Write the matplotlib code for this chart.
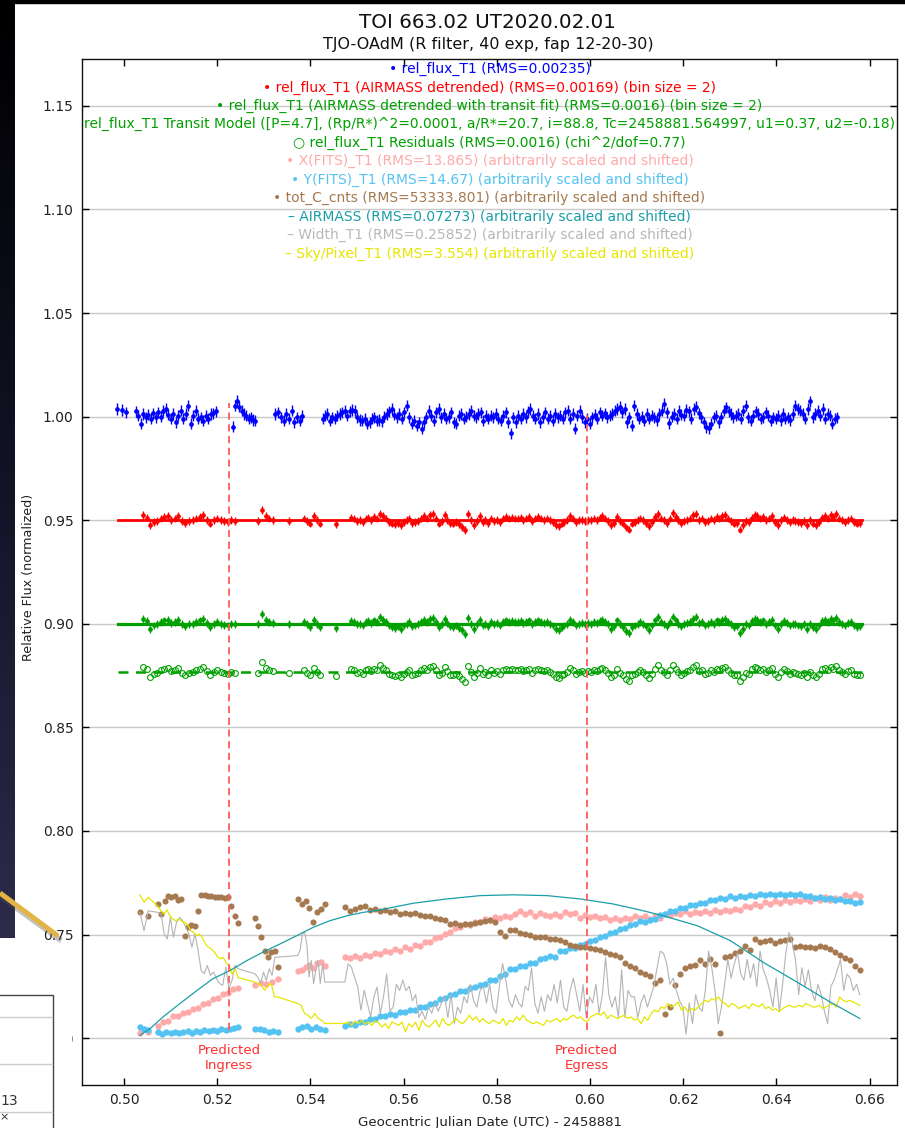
import matplotlib.pyplot as plt
import numpy as np
from matplotlib.patches import Rectangle
from matplotlib.lines import Line2D
from matplotlib.colors import LinearSegmentedColormap

W, H = 905, 1128

# ---------------------------------------------------------------- data
# observing blocks in JD - 2458881 (position / counts / width / sky series)
seg_spans = [(0.5034, 0.5052), (0.5073, 0.5245), (0.5281, 0.5330),
             (0.5373, 0.5431), (0.5474, 0.6579)]
blue_shift = 0.0048  # raw rel_flux_T1 sits this much earlier
# binned (bin size = 2) detrended series
det_spans = [(0.5041, 0.5238), (0.5288, 0.5320), (0.5354, 0.5354),
             (0.5386, 0.5421), (0.5455, 0.5455), (0.5487, 0.6579)]
model_t = [0.4987, 0.6584]
red_level = 0.95
green_level = 0.90
resid_level = 0.8767
pred_t = [0.5225, 0.5993]
pred_top = [1.0066, 1.0010]
pred_bottom = 0.7038
blue_err = 0.0027
det_err = 0.0019

blue_flux = [
    [1.0037, 1.0032, 1.0020],
    [1.0026, 1.0005, 0.9965, 1.0013, 0.9997, 1.0010, 0.9989, 1.0016, 0.9997, 1.0021,
     1.0000, 1.0029, 1.0037, 1.0010, 0.9989, 1.0013, 0.9973, 1.0005, 1.0029, 0.9989,
     1.0013, 1.0053, 0.9965, 1.0005, 1.0029, 0.9989, 0.9997, 0.9981, 1.0005, 0.9989,
     1.0013, 1.0016, 1.0026],
    [0.9952, 1.0053, 1.0077, 1.0048, 1.0029, 1.0013, 1.0005, 0.9989, 0.9997, 0.9984, 0.9981],
    [1.0013, 1.0021, 0.9997, 0.9981, 1.0013, 0.9989, 1.0029, 0.9973, 0.9997, 0.9981, 1.0005],
    [0.9989, 1.0005, 1.0013, 0.9981, 0.9997, 0.9989, 1.0005, 1.0013, 1.0021, 1.0029,
     1.0005, 1.0026, 1.0032, 1.0029, 0.9997, 0.9984, 0.9981, 0.9989, 0.9965, 0.9973,
     0.9989, 0.9997, 0.9981, 0.9984, 0.9978, 1.0000, 1.0013, 1.0026, 1.0037, 1.0010,
     0.9997, 1.0013, 0.9989, 1.0021, 1.0053, 0.9997, 0.9965, 0.9981, 0.9957, 0.9973,
     0.9941, 0.9973, 0.9997, 1.0029, 1.0005, 0.9981, 1.0021, 1.0037, 0.9997, 1.0013,
     0.9989, 0.9997, 1.0021, 0.9973, 0.9965, 1.0005, 1.0013, 0.9989, 1.0000, 1.0013,
     1.0029, 1.0005, 0.9997, 1.0013, 1.0021, 0.9981, 1.0005, 0.9989,
     1.0005, 0.9997, 1.0013, 0.9989, 0.9981, 1.0005, 1.0021, 0.9973, 0.9920, 0.9997,
     0.9973, 1.0005, 0.9989, 1.0013, 0.9997, 1.0026, 1.0037, 1.0005, 0.9989, 1.0013,
     0.9973, 0.9997, 1.0021, 0.9989, 1.0005, 0.9981, 1.0013, 0.9997, 1.0005, 0.9989,
     1.0021, 1.0029, 0.9989, 1.0013, 0.9941, 1.0005, 1.0029, 0.9997, 0.9973, 0.9989,
     0.9965, 0.9997, 1.0010, 0.9989, 1.0021, 1.0005, 1.0016, 0.9997, 1.0005, 1.0013,
     1.0029, 1.0037, 1.0048, 1.0021, 1.0037, 0.9973, 0.9997, 0.9957, 1.0053, 1.0013,
     0.9989, 1.0000, 0.9981, 1.0013, 0.9989, 1.0005, 0.9997, 0.9984, 1.0013, 1.0029,
     1.0061, 1.0021, 0.9968, 1.0000, 1.0013, 0.9989, 1.0029, 1.0010, 1.0005, 1.0032,
     1.0026, 0.9989, 1.0037, 1.0048, 1.0016, 0.9997, 0.9973, 0.9949, 0.9945, 0.9965,
     0.9997, 1.0005, 0.9973, 0.9997, 1.0029, 1.0045, 1.0026, 1.0013, 0.9997, 1.0005,
     1.0013, 0.9989, 1.0029, 1.0053, 0.9997, 0.9981, 1.0005, 1.0026, 1.0013, 0.9989,
     0.9997, 1.0021, 1.0005, 0.9981, 0.9997, 0.9989, 1.0005, 0.9984, 1.0013, 0.9989,
     0.9997, 0.9984, 1.0013, 1.0053, 1.0037, 1.0029, 1.0013, 0.9989, 1.0037, 1.0074,
     0.9997, 1.0013, 1.0029, 1.0005, 1.0037, 0.9989, 1.0013, 1.0005, 0.9965, 0.9989, 0.9997],
]

# AIRMASS-detrended normalized flux (bin size = 2)
det_flux = [
    [1.0024, 1.0013, 0.9976, 0.9992, 0.9997, 1.0008, 1.0016, 1.0019, 1.0003, 1.0008,
     1.0019, 0.9997, 0.9987, 0.9997, 1.0000, 1.0008, 1.0016, 1.0024, 1.0003, 0.9984,
     1.0000, 1.0008, 1.0000, 0.9995, 0.9992, 1.0000, 0.9997],
    [0.9997, 1.0048, 1.0019, 1.0008, 1.0003],
    [0.9997],
    [1.0008, 0.9997, 0.9984, 1.0019, 1.0000, 0.9984],
    [0.9981],
    [1.0013, 1.0008, 0.9997, 1.0000, 0.9992, 1.0008, 1.0013, 1.0003, 1.0016, 1.0008,
     1.0032, 1.0019, 1.0008, 0.9992, 0.9984, 0.9981, 0.9987, 0.9976, 0.9992, 1.0000,
     1.0008, 0.9987, 0.9992, 0.9997, 1.0008, 1.0019, 1.0008, 1.0024, 1.0029, 1.0008,
     0.9984, 0.9997, 1.0024, 1.0003, 0.9987, 0.9984, 0.9992, 0.9981, 0.9968, 0.9952,
     1.0029, 1.0000, 0.9976, 0.9997, 1.0019, 0.9992, 1.0000, 0.9987, 1.0008, 0.9997,
     1.0003, 0.9992, 1.0008, 1.0016, 1.0008, 1.0013, 1.0008,
     1.0008, 1.0013, 1.0003, 1.0008, 1.0016, 0.9997, 1.0008, 1.0016, 1.0008, 1.0003,
     1.0008, 1.0000, 0.9992, 0.9976, 0.9971, 0.9984, 0.9992, 1.0000, 1.0019, 1.0008,
     0.9992, 1.0000, 1.0003, 0.9997, 1.0003, 1.0000, 1.0008, 1.0003, 1.0013, 1.0019,
     1.0008, 0.9997, 0.9976, 0.9987, 1.0016, 0.9997, 0.9984, 0.9965, 0.9955, 0.9984,
     0.9992, 1.0000, 1.0008, 1.0000, 0.9987, 0.9971, 0.9992, 1.0016, 1.0032, 1.0008,
     1.0000, 0.9987, 1.0008, 1.0035, 1.0016, 1.0000, 0.9987, 0.9997, 1.0003, 1.0008,
     1.0024, 1.0032, 1.0003, 1.0008, 0.9992, 0.9997, 1.0008, 1.0000, 1.0016, 1.0008,
     1.0019, 1.0024, 1.0008, 0.9997, 0.9984, 0.9987, 0.9955, 0.9976, 0.9997, 0.9992,
     1.0013, 1.0024, 1.0019, 1.0008, 1.0016, 1.0000, 1.0008, 1.0019, 0.9992, 0.9976,
     1.0000, 1.0013, 1.0003, 0.9992, 1.0000, 0.9997, 0.9992, 0.9987, 0.9997, 0.9976,
     1.0000, 0.9984, 0.9976, 0.9992, 1.0013, 1.0019, 1.0008, 1.0024, 1.0016, 1.0029,
     1.0008, 1.0000, 0.9992, 1.0003, 1.0008, 0.9992, 0.9984, 0.9987],
]

# auxiliary series, already scaled and shifted as on the plot
xfits = [
    [0.7026, 0.7030],
    [0.7060, 0.7080, 0.7084, 0.7106, 0.7108, 0.7122, 0.7124, 0.7141, 0.7148, 0.7166,
     0.7172, 0.7189, 0.7196, 0.7214, 0.7220, 0.7237, 0.7242],
    [0.7255, 0.7266, 0.7263, 0.7271, 0.7287],
    [0.7324, 0.7327, 0.7343, 0.7351, 0.7340, 0.7362, 0.7367, 0.7346],
    [0.7392, 0.7385, 0.7395, 0.7388, 0.7402, 0.7396, 0.7410, 0.7404, 0.7420, 0.7415,
     0.7428, 0.7422, 0.7438, 0.7432, 0.7450, 0.7446, 0.7465, 0.7462, 0.7485, 0.7490,
     0.7505, 0.7512, 0.7530, 0.7538, 0.7550, 0.7547, 0.7562, 0.7560, 0.7575, 0.7570,
     0.7585, 0.7578, 0.7592, 0.7585, 0.7598, 0.7612, 0.7600, 0.7608, 0.7590, 0.7603,
     0.7595, 0.7588, 0.7600, 0.7592, 0.7608, 0.7598, 0.7605, 0.7582, 0.7596, 0.7585,
     0.7590, 0.7578, 0.7585, 0.7570, 0.7582, 0.7572, 0.7580, 0.7575, 0.7588, 0.7580,
     0.7592, 0.7575, 0.7590, 0.7582, 0.7600, 0.7595, 0.7605, 0.7600, 0.7612, 0.7598,
     0.7610, 0.7605, 0.7615, 0.7602, 0.7618, 0.7608, 0.7620, 0.7612, 0.7625, 0.7618,
     0.7640, 0.7632, 0.7650, 0.7640, 0.7655, 0.7648, 0.7660, 0.7652, 0.7665, 0.7655,
     0.7668, 0.7660, 0.7672, 0.7662, 0.7675, 0.7665, 0.7680, 0.7668, 0.7678, 0.7672,
     0.7690, 0.7680, 0.7698, 0.7688],
]
yfits = [
    [0.7054, 0.7046, 0.7038],
    [0.7028, 0.7022, 0.7030, 0.7025, 0.7031, 0.7024, 0.7030, 0.7033, 0.7027, 0.7034,
     0.7030, 0.7038, 0.7033, 0.7039, 0.7036, 0.7042, 0.7038, 0.7046, 0.7050, 0.7054],
    [0.7042, 0.7046, 0.7038, 0.7030, 0.7035, 0.7030],
    [0.7046, 0.7054, 0.7058, 0.7046, 0.7054, 0.7042, 0.7038],
    [0.7060, 0.7068, 0.7066, 0.7078, 0.7079, 0.7092, 0.7093, 0.7108, 0.7106, 0.7115,
     0.7114, 0.7126, 0.7124, 0.7138, 0.7137, 0.7151, 0.7152, 0.7167, 0.7170, 0.7189,
     0.7192, 0.7209, 0.7211, 0.7229, 0.7229, 0.7244, 0.7245, 0.7259, 0.7262, 0.7279,
     0.7281, 0.7302, 0.7310, 0.7332, 0.7335, 0.7349, 0.7349, 0.7363, 0.7365, 0.7382,
     0.7385, 0.7396, 0.7391, 0.7419, 0.7422, 0.7437, 0.7437, 0.7451, 0.7454, 0.7471,
     0.7473, 0.7490, 0.7492, 0.7509, 0.7511, 0.7528, 0.7531, 0.7547, 0.7549, 0.7564,
     0.7559, 0.7570, 0.7575, 0.7596, 0.7599, 0.7613, 0.7613, 0.7627, 0.7627, 0.7641,
     0.7641, 0.7653, 0.7651, 0.7665, 0.7665, 0.7678, 0.7674, 0.7684, 0.7678, 0.7686,
     0.7680, 0.7690, 0.7685, 0.7694, 0.7689, 0.7696, 0.7689, 0.7696, 0.7690, 0.7698,
     0.7693, 0.7697, 0.7685, 0.7687, 0.7676, 0.7681, 0.7671, 0.7676, 0.7667, 0.7671,
     0.7662, 0.7664, 0.7652, 0.7655],
]
tot_c = [
    [0.7607, 0.7591],
    [0.7648, 0.7600, 0.7664, 0.7688, 0.7680, 0.7688, 0.7667, 0.7672, 0.7495, 0.7535,
     0.7548, 0.7543, 0.7615, 0.7692, 0.7691, 0.7688, 0.7684, 0.7683, 0.7680, 0.7680,
     0.7676, 0.7683, 0.7640, 0.7591, 0.7555],
    [0.7580, 0.7543, 0.7490, 0.7423, 0.7390, 0.7415, 0.7423, 0.7343],
    [0.7672, 0.7648, 0.7664, 0.7628, 0.7560, 0.7607, 0.7623, 0.7648],
    [0.7632, 0.7615, 0.7625, 0.7632, 0.7640, 0.7618, 0.7622, 0.7613, 0.7618, 0.7608,
     0.7612, 0.7598, 0.7606, 0.7600, 0.7603, 0.7595, 0.7592, 0.7588, 0.7580, 0.7575,
     0.7568, 0.7550, 0.7556, 0.7546, 0.7552, 0.7550, 0.7557, 0.7560, 0.7566, 0.7572,
     0.7560, 0.7512, 0.7492, 0.7520, 0.7524, 0.7510, 0.7505, 0.7496, 0.7490, 0.7488,
     0.7486, 0.7480, 0.7478, 0.7472, 0.7465, 0.7452, 0.7446, 0.7440, 0.7442, 0.7434,
     0.7430, 0.7426, 0.7418, 0.7408, 0.7402, 0.7390, 0.7365, 0.7350, 0.7338, 0.7320,
     0.7312, 0.7298, 0.7265, 0.7280, 0.7115, 0.7150, 0.7256, 0.7310, 0.7340, 0.7350,
     0.7355, 0.7375, 0.7360, 0.7380, 0.7360, 0.7025, 0.7390, 0.7398, 0.7412, 0.7423,
     0.7447, 0.7425, 0.7478, 0.7465, 0.7470, 0.7472, 0.7458, 0.7468, 0.7472, 0.7478,
     0.7440, 0.7446, 0.7442, 0.7438, 0.7436, 0.7446, 0.7440, 0.7430, 0.7418, 0.7400,
     0.7388, 0.7375, 0.7350, 0.7327],
]
width_t1 = [
    [0.7607, 0.7519, 0.7615],
    [0.7607, 0.7600, 0.7503, 0.7479, 0.7583, 0.7487, 0.7559, 0.7583, 0.7567, 0.7535,
     0.7503, 0.7439, 0.7503, 0.7423, 0.7327, 0.7311, 0.7351, 0.7303, 0.7319, 0.7287,
     0.7263, 0.7255, 0.7343, 0.7239, 0.7279, 0.7351, 0.7335],
    [0.7311, 0.7295, 0.7263, 0.7319, 0.7279, 0.7335, 0.7303, 0.7391, 0.7391],
    [0.7399, 0.7423, 0.7503, 0.7511, 0.7455, 0.7295, 0.7375, 0.7263, 0.7327, 0.7375,
     0.7263, 0.7359, 0.7271],
    [0.7271, 0.7359, 0.7343, 0.7295, 0.7247, 0.7135, 0.7231, 0.7167, 0.7103, 0.7199,
     0.7247, 0.7119,
     0.720, 0.731, 0.713, 0.715, 0.726, 0.723, 0.728, 0.723, 0.725, 0.718,
     0.721, 0.710, 0.713, 0.709, 0.715, 0.712, 0.717, 0.713, 0.717, 0.720,
     0.710, 0.721, 0.707, 0.715, 0.712, 0.720, 0.717, 0.726, 0.718, 0.715,
     0.723, 0.725, 0.717, 0.726, 0.715, 0.712, 0.725, 0.736, 0.728, 0.718,
     0.715, 0.721, 0.717, 0.715, 0.725, 0.723, 0.734, 0.717, 0.712, 0.720,
     0.713, 0.721, 0.718, 0.726, 0.717, 0.728, 0.715, 0.713, 0.723, 0.729,
     0.721, 0.713, 0.726, 0.710, 0.720, 0.717, 0.726, 0.712, 0.721, 0.739,
     0.721, 0.715, 0.720, 0.710, 0.733, 0.710, 0.723, 0.720, 0.720,
     0.710, 0.717, 0.721, 0.715, 0.720, 0.725, 0.734, 0.742, 0.741, 0.736,
     0.726, 0.729, 0.723, 0.718, 0.715, 0.702, 0.717, 0.707, 0.721, 0.715,
     0.713, 0.723, 0.742, 0.734, 0.723, 0.707, 0.715, 0.726, 0.738, 0.729,
     0.736, 0.741, 0.731, 0.728, 0.738, 0.729, 0.736, 0.725, 0.742, 0.733,
     0.729, 0.723, 0.715, 0.729, 0.713, 0.726, 0.741, 0.751, 0.746, 0.738,
     0.721, 0.734, 0.725, 0.733, 0.723, 0.718, 0.726, 0.721, 0.713, 0.707,
     0.725, 0.728, 0.733, 0.738, 0.723, 0.731, 0.729, 0.723, 0.726, 0.721],
]
sky_pixel = [
    [0.7692, 0.7656, 0.7680],
    [0.7635, 0.7615, 0.7600, 0.7619, 0.7591, 0.7575, 0.7567, 0.7575, 0.7564, 0.7559,
     0.7548, 0.7519, 0.7511, 0.7495, 0.7503, 0.7484, 0.7455, 0.7439, 0.7431, 0.7415,
     0.7394, 0.7383, 0.7390, 0.7362, 0.7351, 0.7308, 0.7335, 0.7292],
    [0.7271, 0.7263, 0.7255, 0.7231, 0.7255, 0.7263, 0.7199, 0.7199],
    [0.7167, 0.7159, 0.7119, 0.7111, 0.7095, 0.7119, 0.7095, 0.7087, 0.7071],
    [0.7071, 0.7078, 0.7062, 0.7083, 0.7071, 0.7087, 0.7067, 0.7078, 0.7062, 0.7083,
     0.7074,
     0.7054, 0.7070, 0.7046, 0.7078, 0.7070, 0.7062, 0.7078, 0.7030, 0.7070, 0.7054,
     0.7078, 0.7038, 0.7087, 0.7062, 0.7054, 0.7070, 0.7087, 0.7054, 0.7095, 0.7070,
     0.7062, 0.7078, 0.7095, 0.7078, 0.7070, 0.7087, 0.7111, 0.7087, 0.7103, 0.7078,
     0.7095, 0.7078, 0.7070, 0.7087, 0.7078, 0.7070, 0.7095, 0.7062, 0.7087, 0.7078,
     0.7103, 0.7087, 0.7111, 0.7087, 0.7078, 0.7070, 0.7078, 0.7070, 0.7062, 0.7087,
     0.7078, 0.7087, 0.7095, 0.7078, 0.7095, 0.7087, 0.7103, 0.7111, 0.7095, 0.7103,
     0.7087, 0.7078, 0.7103, 0.7111, 0.7119, 0.7111, 0.7127, 0.7095, 0.7111, 0.7103,
     0.7095, 0.7103, 0.7111, 0.7095, 0.7103, 0.7087,
     0.7095, 0.7070, 0.7103, 0.7087, 0.7119, 0.7135, 0.7127, 0.7151, 0.7143, 0.7167,
     0.7151, 0.7159, 0.7175, 0.7135, 0.7151, 0.7127, 0.7143, 0.7135, 0.7151, 0.7167,
     0.7183, 0.7175, 0.7191, 0.7183, 0.7199, 0.7175, 0.7167, 0.7151, 0.7167, 0.7159,
     0.7143, 0.7151, 0.7159, 0.7143, 0.7167, 0.7159, 0.7151, 0.7167, 0.7143, 0.7151,
     0.7135, 0.7143, 0.7127, 0.7143, 0.7151, 0.7159, 0.7151, 0.7151, 0.7159, 0.7151,
     0.7167, 0.7159, 0.7151, 0.7151, 0.7159, 0.7143, 0.7151, 0.7159, 0.7167, 0.7151,
     0.7199, 0.7183, 0.7175, 0.7183, 0.7175, 0.7167, 0.7159],
]
airmass_t = [0.5034, 0.5056, 0.5084, 0.5120, 0.5157, 0.5191, 0.5228, 0.5264, 0.5298,
             0.5335, 0.5371, 0.5406, 0.5442, 0.5479, 0.5513, 0.5549, 0.5620, 0.5693,
             0.5764, 0.5835, 0.5908, 0.5979, 0.6049, 0.6107, 0.6157, 0.6230, 0.6301,
             0.6371, 0.6444, 0.6515, 0.6579]
airmass_y = [0.7014, 0.7046, 0.7103, 0.7167, 0.7231, 0.7287, 0.7327, 0.7375, 0.7415,
             0.7455, 0.7495, 0.7535, 0.7567, 0.7591, 0.7607, 0.7619, 0.7651, 0.7672,
             0.7688, 0.7692, 0.7688, 0.7672, 0.7648, 0.7619, 0.7591, 0.7543, 0.7471,
             0.7367, 0.7271, 0.7175, 0.7095]

c_blue = "#0000ff"
c_red = "#ff0000"
c_green = "#00a000"
c_pink = "#ffaaaa"
c_cyan = "#55c3f2"
c_brown = "#a57a50"
c_teal = "#1a9ea8"
c_gray = "#b4b4b4"
c_yellow = "#e6e600"

legend_lines = [
    ("\u2022 rel_flux_T1 (RMS=0.00235)", c_blue),
    ("\u2022 rel_flux_T1 (AIRMASS detrended) (RMS=0.00169) (bin size = 2)", c_red),
    ("\u2022 rel_flux_T1 (AIRMASS detrended with transit fit) (RMS=0.0016) (bin size = 2)", c_green),
    ("rel_flux_T1 Transit Model ([P=4.7], (Rp/R*)^2=0.0001, a/R*=20.7, i=88.8, "
     "Tc=2458881.564997, u1=0.37, u2=-0.18)", c_green),
    ("\u25cb rel_flux_T1 Residuals (RMS=0.0016) (chi^2/dof=0.77)", c_green),
    ("\u2022 X(FITS)_T1 (RMS=13.865) (arbitrarily scaled and shifted)", c_pink),
    ("\u2022 Y(FITS)_T1 (RMS=14.67) (arbitrarily scaled and shifted)", c_cyan),
    ("\u2022 tot_C_cnts (RMS=53333.801) (arbitrarily scaled and shifted)", c_brown),
    ("\u2013 AIRMASS (RMS=0.07273) (arbitrarily scaled and shifted)", c_teal),
    ("\u2013 Width_T1 (RMS=0.25852) (arbitrarily scaled and shifted)", "#b8b8b8"),
    ("\u2013 Sky/Pixel_T1 (RMS=3.554) (arbitrarily scaled and shifted)", c_yellow),
]


def seg_series(spans, values, shift=0.0):
    t = np.concatenate([np.linspace(a, b, len(v)) for (a, b), v in zip(spans, values)])
    return t - shift, np.concatenate(values)


fig = plt.figure(figsize=(W / 100, H / 100), dpi=100)
ax = fig.add_axes([82 / W, 1 - 1085 / H, (897 - 82) / W, (1085 - 59) / H])


def fit_text(txt, target, use_height=False):
    r = fig.canvas.get_renderer()
    bb = txt.get_window_extent(r)
    cur = bb.height if use_height else bb.width
    txt.set_fontsize(txt.get_fontsize() * target / cur)
    return txt.get_fontsize()


# lower panel: auxiliary series
t, v = seg_series(seg_spans, xfits)
ax.plot(t, v, "o", ms=4.6, mew=0, color=c_pink, zorder=3)
t, v = seg_series(seg_spans, yfits)
ax.plot(t, v, "o", ms=4.6, mew=0, color=c_cyan, zorder=3)
t, v = seg_series(seg_spans, tot_c)
ax.plot(t, v, "o", ms=4.4, mew=0, color=c_brown, zorder=3)
t, v = seg_series(seg_spans, width_t1)
ax.plot(t, v, "-", lw=0.8, color=c_gray, zorder=3.5)
t, v = seg_series(seg_spans, sky_pixel)
ax.plot(t, v, "-", lw=0.9, color=c_yellow, zorder=3.6)
ax.plot(airmass_t, airmass_y, "-", lw=0.9, color=c_teal, zorder=4)

# raw light curve
eb = dict(fmt="o", ms=3.4, mew=0, elinewidth=1.0, capsize=3.2, capthick=1.0, zorder=5)
t, v = seg_series(seg_spans, blue_flux, blue_shift)
ax.errorbar(t, v, yerr=blue_err, color=c_blue, ecolor=c_blue, **eb)

# detrended, fitted and residuals
t, v = seg_series(det_spans, det_flux)
ax.plot(model_t, [red_level] * 2, "-", lw=2.0, color=c_red, zorder=4)
ax.plot(model_t, [green_level] * 2, "-", lw=2.3, color=c_green, zorder=4)
ax.plot(model_t, [resid_level] * 2, "-", lw=1.8, color=c_green, dashes=(4, 3), zorder=4)
ax.errorbar(t, v - 1 + red_level, yerr=det_err, color=c_red, ecolor=c_red, **eb)
ax.errorbar(t, v - 1 + green_level, yerr=det_err, color=c_green, ecolor=c_green, **eb)
ax.plot(t, v - 1 + resid_level, "o", ms=4.2, mfc="none", mec=c_green, mew=0.8, zorder=5)

# predicted ingress / egress
pred_labels = []
for tp, top, name in zip(pred_t, pred_top, ["Ingress", "Egress"]):
    ax.plot([tp, tp], [pred_bottom, top], color="#ff5c5c", lw=1.3, dashes=(4, 2.5), zorder=6)
    pred_labels.append(ax.text(tp, 0.6972, "Predicted\n" + name, ha="center", va="top",
                               color="#ff3030", fontsize=10, linespacing=1.2))
fs = fit_text(pred_labels[0], 63)
pred_labels[1].set_fontsize(fs)

ax.set_xlim(0.49099, 0.66588)
ax.set_ylim(0.6774, 1.1726)
ax.set_xticks(np.arange(0.50, 0.661, 0.02))
ax.set_yticks(np.arange(0.70, 1.151, 0.05))
ax.xaxis.set_major_formatter(plt.FormatStrFormatter("%.2f"))
ax.yaxis.set_major_formatter(plt.FormatStrFormatter("%.2f"))
ax.tick_params(direction="in", top=True, right=True, length=5, width=1,
               labelsize=10, labelcolor="#222222", pad=6)
ax.grid(axis="y", color="#c8c8c8", lw=1)
ax.set_axisbelow(True)
for s in ax.spines.values():
    s.set_color("#111111")
    s.set_linewidth(1)

xl = ax.set_xlabel("Geocentric Julian Date (UTC) - 2458881", fontsize=10, color="#222222")
ax.xaxis.set_label_coords(0.5, -(1116 - 1085) / 1026)
yl = ax.set_ylabel("Relative Flux (normalized)", fontsize=10, color="#222222")
ax.yaxis.set_label_coords(-(82 - 35) / 815, (1085 - 577) / 1026)

# legend lines at the top of the plot
leg = []
for i, (s, c) in enumerate(legend_lines):
    leg.append(ax.text(0.5, 0.9902 - 0.01798 * i, s, transform=ax.transAxes, ha="center",
                       va="center", color=c, fontsize=10, zorder=7))
fs = fit_text(leg[3], 813)
for txt in leg:
    txt.set_fontsize(fs)

title = fig.text(487.5 / W, 1 - 23 / H, "TOI 663.02 UT2020.02.01", ha="center",
                 va="center", fontsize=12, color="#111111")
fit_text(title, 255)
sub = fig.text(488 / W, 1 - 44 / H, "TJO-OAdM (R filter, 40 exp, fap 12-20-30)",
               ha="center", va="center", fontsize=11, color="#111111")
fit_text(sub, 330)
fit_text(xl, 265)
fit_text(yl, 167, use_height=True)

# surrounding screenshot: dark desktop strip, pointer arrow, small window
fig.add_artist(Rectangle((0, 1 - 3 / H), 1, 3 / H, transform=fig.transFigure,
                         color="black", zorder=8))
gax = fig.add_axes([0, 1 - 938 / H, 14 / W, 938 / H])
gax.axis("off")
cmap = LinearSegmentedColormap.from_list("bg", ["#000000", "#121226", "#2c2b4a"])
gax.imshow(np.linspace(0, 1, 256)[:, None], aspect="auto", cmap=cmap)
fig.add_artist(Rectangle((53 / W, 1 - 1048 / H), 18 / W, 20 / H, transform=fig.transFigure,
                         color="white", zorder=8))
fig.add_artist(Rectangle((-2 / W, -2 / H), 55 / W, (1128 - 995 + 2) / H,
                         transform=fig.transFigure, facecolor="white",
                         edgecolor="#444444", lw=1, zorder=8))
for yy in [1017, 1064, 1112]:
    fig.add_artist(Line2D([0, 52 / W], [1 - yy / H] * 2, transform=fig.transFigure,
                          color="#cccccc", lw=1, zorder=9))
fig.text(9 / W, 1 - 1101 / H, "13", ha="center", va="center", fontsize=10,
         color="#333333", zorder=9)
fig.text(4 / W, 1 - 1117 / H, "\u00d7", ha="center", va="center", fontsize=8,
         color="#333333", zorder=9)
fig.add_artist(Line2D([0, 59 / W], [1 - 896 / H, 1 - 939 / H], transform=fig.transFigure,
                      color="#555555", alpha=0.35, lw=4, zorder=9))
fig.add_artist(Line2D([0, 58 / W], [1 - 893 / H, 1 - 936 / H], transform=fig.transFigure,
                      color="#e2b444", lw=3.6, solid_capstyle="butt", zorder=10))

fig.savefig("out.png", dpi=100)
